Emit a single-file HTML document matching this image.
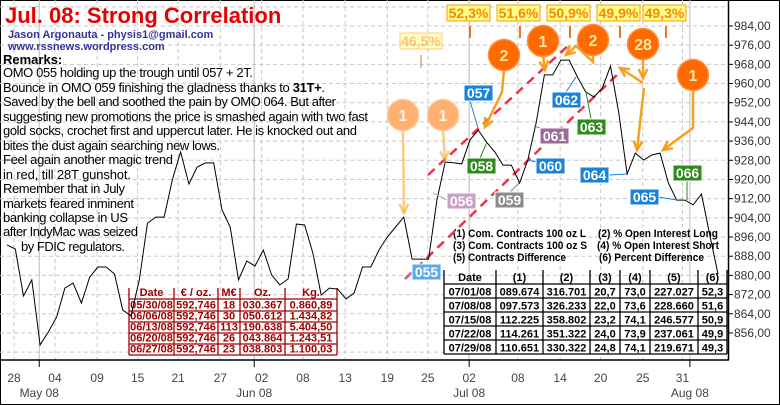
<!DOCTYPE html>
<html><head><meta charset="utf-8"><style>
body{margin:0;background:#fff}
svg{display:block;font-family:"Liberation Sans",sans-serif}
</style></head><body>
<svg id="chart" width="780" height="405" viewBox="0 0 780 405">
<rect x="0.5" y="0.5" width="779" height="404" fill="#fff" stroke="#000"/>
<g id="grid"></g>
<g id="axes"></g>
<g id="tables"></g>
<g id="trend">
<line x1="428" y1="175" x2="570" y2="44" stroke="#ee3344" stroke-width="2.5" stroke-dasharray="9,6"/>
<line x1="405" y1="279" x2="622" y2="70" stroke="#ee3344" stroke-width="2.5" stroke-dasharray="9,6"/>
</g>
<g id="series"></g>
<g id="omo"></g>
<g id="ann"></g>
<g id="texts">
<text x="5" y="23" font-size="22" font-weight="bold" fill="#e80000">Jul. 08: Strong Correlation</text>
<text x="8" y="38" font-size="11" font-weight="bold" fill="#333399">Jason Argonauta - physis1@gmail.com</text>
<text x="8" y="50" font-size="11" font-weight="bold" fill="#333399">www.rssnews.wordpress.com</text>
<text x="3" y="64" font-size="13" font-weight="bold">Remarks:</text>
<g font-size="13" fill="#000">
<text x="3" y="77" textLength="250">OMO 055 holding up the trough until 057 + 2T.</text>
<text x="3" y="92" textLength="322">Bounce in OMO 059 finishing the gladness thanks to <tspan font-weight="bold">31T+</tspan>.</text>
<text x="3" y="106" textLength="333">Saved by the bell and soothed the pain by OMO 064. But after</text>
<text x="3" y="121" textLength="365">suggesting new promotions the price is smashed again with two fast</text>
<text x="3" y="135" textLength="354">gold socks, crochet first and uppercut later. He is knocked out and</text>
<text x="3" y="150" textLength="217">bites the dust again searching new lows.</text>
<text x="3" y="164" textLength="170">Feel again another magic trend</text>
<text x="3" y="179" textLength="128">in red, till 28T gunshot.</text>
<text x="3" y="193" textLength="122">Remember that in July</text>
<text x="3" y="208" textLength="131">markets feared inminent</text>
<text x="3" y="222" textLength="125">banking collapse in US</text>
<text x="3" y="236" textLength="135">after IndyMac was seized</text>
<text x="21" y="251" textLength="104">by FDIC regulators.</text>
</g>
</g>
</svg>
<script>
const prices=[892.7,891.0,871.4,878.1,851.0,856.4,862.6,874.7,876.8,868.5,879.3,883.5,883.5,880.6,865.6,863.1,878.1,901.8,904.3,904.3,919.8,931.5,918.1,925.2,926.9,926.9,907.3,900.2,878.1,886.0,883.9,890.6,880.2,876.0,878.5,901.4,901.0,889.3,871.8,874.7,874.3,870.2,872.7,883.5,883.5,890.6,896.0,900.2,904.3,886.8,886.8,886.8,911.4,927.3,927.0,926.5,936.5,940.6,935.6,931.5,926.0,926.0,918.5,928.1,943.5,963.6,963.6,969.8,969.8,962.7,956.5,954.4,958.1,967.3,947.7,922.3,931.0,928.1,930.2,931.0,918.5,911.4,911.4,909.4,913.9,897.0,880.6];
const yTicks=[856,864,872,880,888,896,904,912,920,928,936,944,952,960,968,976,984];
const xTickIdx=[0.85,5.8,10.9,15.8,20.7,25.8,30.8,35.8,40.9,46,50.9,55.9,61.8,66.9,71.8,76.9,81.7];
const xTickLabels=["28","04","09","15","21","27","02","08","13","19","25","02","08","14","20","25","31"];
const monthIdx=[3.9,29.9,55.9,82.6];
const monthLabels=["May 08","Jun 08","Jul 08","Aug 08"];
const redHead=["Date","€ / oz.","M€","Oz.","Kg."];
const redRows=[["05/30/08","592,746","18","030.367","0.860,89"],["06/06/08","592,746","30","050.612","1.434,82"],["06/13/08","592,746","113","190.638","5.404,50"],["06/20/08","592,746","26","043.864","1.243,51"],["06/27/08","592,746","23","038.803","1.100,03"]];
const blkHead=["Date","(1)","(2)","(3)","(4)","(5)","(6)"];
const blkRows=[["07/01/08","089.674","316.701","20,7","73,0","227.027","52,3"],["07/08/08","097.573","326.233","22,0","73,6","228.660","51,6"],["07/15/08","112.225","358.802","23,2","74,1","246.577","50,9"],["07/22/08","114.261","351.322","24,0","73,9","237.061","49,9"],["07/29/08","110.651","330.322","24,8","74,1","219.671","49,3"]];
const pctLabels=["52,3%","51,6%","50,9%","49,9%","49,3%"];

const NS="http://www.w3.org/2000/svg";
const X=i=>7+i*(711/(prices.length-1));
const Y=v=>26+(984-v)*2.398;
function mk(tag,attrs,parent,text){const e=document.createElementNS(NS,tag);for(const k in attrs)e.setAttribute(k,attrs[k]);if(text!==undefined)e.textContent=text;parent.appendChild(e);return e;}
const grid=document.getElementById('grid'),axes=document.getElementById('axes');
for(let v=848;v<=992;v+=8){const l=mk('line',{x1:0,x2:728,y1:Y(v),y2:Y(v),stroke:'#c8c8c8','stroke-dasharray':'4,3'},grid);

}
xTickIdx.forEach((t,i)=>{const l=mk('line',{x1:X(t),x2:X(t),y1:0,y2:360,stroke:'#c8c8c8','stroke-dasharray':'4,3'},grid);


const tx=mk('text',{x:X(t),y:382,'font-size':12,fill:'#444','text-anchor':'middle'},axes,xTickLabels[i]);

});
monthIdx.forEach((t,i)=>{const l=mk('line',{x1:X(t),x2:X(t),y1:0,y2:360,stroke:'#bbb'},grid);


const tk=mk('line',{x1:X(t),x2:X(t),y1:360,y2:367,stroke:'#000'},axes);


const tx=mk('text',{x:X(t),y:397,'font-size':12,fill:'#444','text-anchor':'middle'},axes,monthLabels[i]);

});
const ax1=mk('line',{x1:0,x2:729,y1:360,y2:360,stroke:'#000','stroke-width':1.5},axes);


const ax2=mk('line',{x1:728.5,x2:728.5,y1:0,y2:360,stroke:'#000','stroke-width':1.5},axes);


yTicks.forEach(v=>{const t=mk('line',{x1:728,x2:733,y1:Y(v),y2:Y(v),stroke:'#000'},axes);


const tx=mk('text',{x:734,y:Y(v)+4,'font-size':12,fill:'#333'},axes,v.toFixed(2).replace('.',','));

});

const tb=document.getElementById('tables');
function table(x0,cols,yTop,rowLines,head,rows,color,name){
 const g=mk('g',{},tb);
 
 
 mk('rect',{x:x0,y:rowLines[0],width:cols[cols.length-1]-x0,height:rowLines[rowLines.length-1]-rowLines[0],fill:'#fff'},g);
 const xs=[x0].concat(cols);
 xs.forEach(x=>mk('line',{x1:x,x2:x,y1:yTop,y2:rowLines[rowLines.length-1],stroke:color,'stroke-width':1.3},g));
 rowLines.forEach(y=>mk('line',{x1:x0,x2:cols[cols.length-1],y1:y,y2:y,stroke:color,'stroke-width':1.3},g));
 head.forEach((h,i)=>mk('text',{x:(xs[i]+xs[i+1])/2,y:rowLines[0]-3,'text-anchor':'middle','font-size':11,'font-weight':'bold',fill:color},g,h));
 rows.forEach((r,j)=>r.forEach((c,i)=>mk('text',{x:(xs[i]+xs[i+1])/2,y:rowLines[j+1]-2.5,'text-anchor':'middle','font-size':11,'font-weight':'bold',fill:color},g,c)));
}
table(129,[174,218,240,285,337],288,[299,311,322,333,344,355],redHead,redRows,'#a00000','red-purchase-table');
table(444,[496,543,590,620,650,698,727],270,[284,298,312,326,340,354],blkHead,blkRows,'#000','cot-table');
const lg=[["(1) Com. Contracts 100 oz L",453,237,133],["(2) % Open Interest Long",598,237,120],["(3) Com. Contracts 100 oz S",453,249,134],["(4) % Open Interest Short",597,249,122],["(5) Contracts Difference",453,261,113],["(6) Percent Difference",599,261,105]];
lg.forEach(l=>{const t=mk('text',{x:l[1],y:l[2],'font-size':11,'font-weight':'bold',fill:'#000',textLength:l[3],lengthAdjust:'spacingAndGlyphs'},tb,l[0]);

});

const s=document.getElementById('series');
const pl=mk('polyline',{points:prices.map((v,i)=>X(i).toFixed(1)+','+Y(v).toFixed(1)).join(' '),fill:'none',stroke:'#000','stroke-width':1},s);



const omo=document.getElementById('omo');
const boxes=[["057",464,85,'#1a82d8',470,101,478,128],["058",467,158,'#2e8b1e',480,158,487,142],["062",552,92,'#1a82d8',566,92,576,77],["063",577,119,'#2e8b1e',591,119,586,92],["061",540,128,'#9a6a98',540,128,534,126],["060",536,158,'#1a82d8',536,162,528,160],["064",580,167,'#1a82d8',609,175,627,174],["065",630,189,'#1a82d8',658,197,677,200],["066",673,165,'#2e8b1e',687,181,687,200],["056",447,193,'#c8a0c8',447,200,433,193],["059",495,192,'#8c8c8c',510,192,519,183],["055",412,264,'#5aaaee',412,272,405,279]];
boxes.forEach(b=>{const g=mk('g',{},omo);


mk('line',{x1:b[4],y1:b[5],x2:b[6],y2:b[7],stroke:b[3],'stroke-width':1},g);
mk('rect',{x:b[1],y:b[2],width:29,height:16,fill:b[3],stroke:'#fff','stroke-width':1},g);
mk('text',{x:b[1]+14.5,y:b[2]+13,'text-anchor':'middle','font-size':14,'font-weight':'bold',fill:'#fff'},g,b[0]);});

const ann=document.getElementById('ann');
const pctX=[447,497,547,597,643];
pctLabels.forEach((p,i)=>{const g=mk('g',{},ann);


mk('rect',{x:pctX[i],y:5,width:43,height:16,fill:'#ffff88',stroke:'#ff9a00'},g);
mk('text',{x:pctX[i]+21.5,y:18,'text-anchor':'middle','font-size':14,'font-weight':'bold',fill:'#ff8400'},g,p);
mk('line',{x1:pctX[i]+23,x2:pctX[i]+23,y1:26,y2:38,stroke:'#ee7722','stroke-width':2},g);});
const pg=mk('g',{opacity:0.5},ann);


mk('rect',{x:400,y:33,width:42,height:16,fill:'#ffff88',stroke:'#ff9a00'},pg);
mk('text',{x:421,y:46,'text-anchor':'middle','font-size':14,'font-weight':'bold',fill:'#ff8400'},pg,'46,5%');
mk('line',{x1:421,x2:421,y1:55,y2:68,stroke:'#ee7722','stroke-width':2},pg);
function arrow(g,pts,op){const c='#f7a020';
 mk('polyline',{points:pts.map(p=>p.join(',')).join(' '),fill:'none',stroke:c,'stroke-width':2.5,opacity:op},g);
 const a=pts[pts.length-1],b=pts[pts.length-2],ang=Math.atan2(a[1]-b[1],a[0]-b[0]);
 const h=10,w=0.45;
 mk('polyline',{points:[[a[0]-h*Math.cos(ang-w),a[1]-h*Math.sin(ang-w)],a,[a[0]-h*Math.cos(ang+w),a[1]-h*Math.sin(ang+w)]].map(p=>p.join(',')).join(' '),fill:'none',stroke:c,'stroke-width':2.5,opacity:op},g);}
const circ=[["1",403,115,0.55,[[[403,130],[404,213]]]],["1",443,115,0.55,[[[443,130],[445,160]]]],["2",504,55,1,[[[504,70],[502,92],[485,127]]]],["1",543,41,1,[[[543,56],[545,70]]]],["2",593,40,1,[[[593,55],[593,62],[576,46],[566,55]]]],["28",643,44,1,[[[643,60],[643,78]],[[643,83],[620,68]],[[644,88],[637,150]]]],["1",693,75,1,[[[693,90],[693,128],[663,150]]]]];
circ.forEach(c=>{const g=mk('g',{},ann);


c[4].forEach(p=>arrow(g,p,c[3]));
mk('circle',{cx:c[1],cy:c[2],r:15.5,fill:c[3]<1?'#ffb070':'#ff6a00',stroke:c[3]<1?'#ffc898':'#ff9040','stroke-width':1.5},g);
mk('text',{x:c[1],y:c[2]+6,'text-anchor':'middle','font-size':16,'font-weight':'bold',fill:c[3]<1?'#fff0e0':'#ffe8a0'},g,c[0]);});
</script>
</body></html>
